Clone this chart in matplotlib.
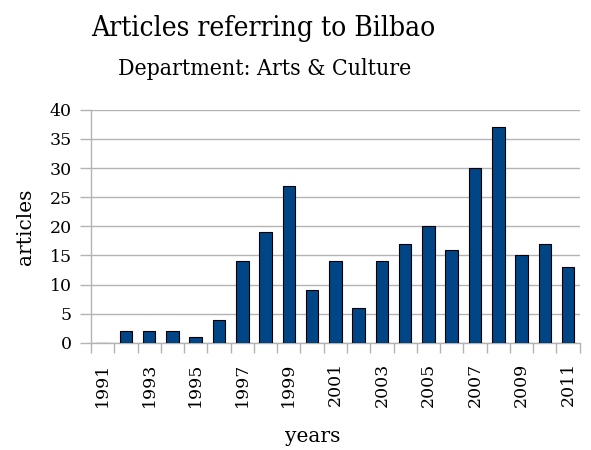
import matplotlib
matplotlib.use("Agg")
import matplotlib.pyplot as plt
import numpy as np

years = list(range(1991, 2012))
articles = [0, 2, 2, 2, 1, 4, 14, 19, 27, 9, 14, 6, 14, 17, 20, 16, 30, 37, 15, 17, 13]
yticks = [0, 5, 10, 15, 20, 25, 30, 35, 40]

plt.rcParams['font.family'] = ['DejaVu Serif']

fig = plt.figure(figsize=(5.91, 4.5), dpi=100)
ax = fig.add_axes([0.154, 0.238, 0.827, 0.518])

x = np.arange(len(years))
ax.bar(x, articles, width=0.54, color='#004586', edgecolor='black', linewidth=0.8, zorder=3)

ax.set_xlim(-0.5, len(years) - 0.5)
ax.set_ylim(0, 40)
ax.set_yticks(yticks)
ax.set_yticklabels([str(v) for v in yticks], fontsize=12.5)
ax.yaxis.grid(True, color='#b3b3b3', linewidth=1, zorder=0)
ax.tick_params(axis='y', length=8, color='#b3b3b3', width=1, pad=6)

ax.set_xticks(x[::2])
ax.set_xticklabels([str(y) for y in years[::2]], rotation=90, fontsize=12.5)
ax.set_xticks(np.arange(-0.5, len(years), 1.0), minor=True)
ax.tick_params(axis='x', which='major', length=0, pad=14)
ax.tick_params(axis='x', which='minor', length=7, color='#b3b3b3', width=1)

for side in ['top', 'right']:
    ax.spines[side].set_visible(False)
for side in ['left', 'bottom']:
    ax.spines[side].set_color('#b3b3b3')
    ax.spines[side].set_linewidth(1)

ax.set_ylabel('articles', fontsize=14.5, labelpad=10)
ax.set_xlabel('years', fontsize=14.5)
ax.xaxis.set_label_coords(0.454, -0.36)

fig.text(0.445, 0.937, 'Articles referring to Bilbao', ha='center', va='center', fontsize=20.2, fontstretch='condensed')
fig.text(0.448, 0.847, 'Department: Arts & Culture', ha='center', va='center', fontsize=16.5, fontstretch='condensed')

fig.savefig('out.png', dpi=100)
